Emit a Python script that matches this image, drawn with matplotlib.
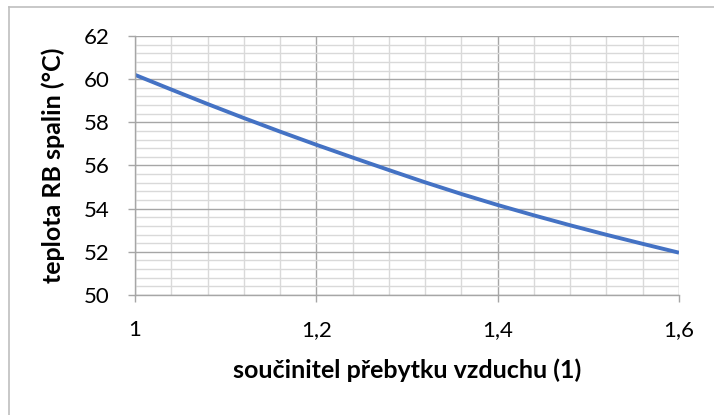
import numpy as np
import matplotlib.pyplot as plt
from matplotlib.ticker import MultipleLocator, FuncFormatter
from matplotlib.lines import Line2D

# data
alfa = [1.0, 1.04, 1.08, 1.12, 1.16, 1.2, 1.24, 1.28, 1.32, 1.36,
        1.4, 1.44, 1.48, 1.52, 1.56, 1.6]
teplota = [60.2, 59.52, 58.85, 58.2, 57.57, 56.96, 56.37, 55.79, 55.22, 54.68,
           54.17, 53.69, 53.23, 52.79, 52.37, 51.96]

plt.rcParams['font.family'] = ['Lato', 'DejaVu Sans']

fig = plt.figure(figsize=(7.14, 4.15), dpi=100)
ax = fig.add_axes([135/714, 1-295/415, (679-135)/714, (295-36)/415])

ax.plot(alfa, teplota, color='#4472C4', lw=2.8, solid_capstyle='butt', solid_joinstyle='round')

ax.set_xlim(1.0, 1.6)
ax.set_ylim(50, 62)
ax.xaxis.set_major_locator(MultipleLocator(0.2))
ax.xaxis.set_minor_locator(MultipleLocator(0.04))
ax.yaxis.set_major_locator(MultipleLocator(2))
ax.yaxis.set_minor_locator(MultipleLocator(0.4))
ax.xaxis.set_major_formatter(FuncFormatter(lambda v, p: ('%g' % round(v, 2)).replace('.', ',')))

ax.grid(which='major', color='#a6a6a6', lw=1.0)
ax.grid(which='minor', color='#d9d9d9', lw=1.0)
ax.set_axisbelow(True)

for s in ['top', 'right']:
    ax.spines[s].set_visible(False)
for s in ['left', 'bottom']:
    ax.spines[s].set_color('#a6a6a6')
    ax.spines[s].set_linewidth(1.0)

ax.tick_params(which='major', direction='out', length=5, width=1.0, color='#a6a6a6',
               labelsize=16)
ax.tick_params(axis='x', which='major', pad=13)
ax.tick_params(axis='y', which='major', pad=13)
ax.tick_params(which='minor', length=0)

ax.set_xlabel('součinitel přebytku vzduchu (1)', fontsize=18, fontweight='bold', va='center')
ax.set_ylabel('teplota RB spalin (°C)', fontsize=18, fontweight='bold', va='center')
ax.xaxis.set_label_coords(0.5, (295-370)/259)
ax.yaxis.set_label_coords((53-135)/544, 0.5)

# chart frame (left and top edges visible)
fig.add_artist(Line2D([9/714, 9/714], [0, 1-7/415], color='#bfbfbf', lw=1.2, transform=fig.transFigure))
fig.add_artist(Line2D([9/714, 1], [1-7/415, 1-7/415], color='#bfbfbf', lw=1.2, transform=fig.transFigure))

fig.savefig('out.png', dpi=100)
